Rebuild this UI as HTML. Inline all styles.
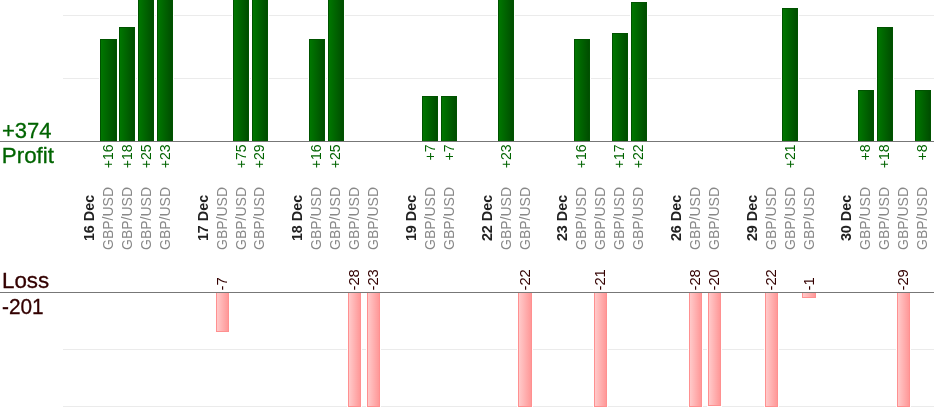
<!DOCTYPE html>
<html><head><meta charset="utf-8"><title>Pips chart</title>
<style>
html,body{margin:0;padding:0;background:#fff;}
body{width:934px;height:420px;overflow:hidden;}
svg{display:block;font-family:"Liberation Sans",sans-serif;}
svg text{font-size:14px;}
.d{font-weight:bold;fill:#222;}
.p{fill:#888;}
.gv{fill:#006400;}
.rv{fill:#330000;}
svg text.big{font-size:22px;}
</style></head><body>
<svg width="934" height="420" viewBox="0 0 934 420">
<defs>
<linearGradient id="g" x1="0" y1="0" x2="1" y2="0"><stop offset="0" stop-color="#007800"/><stop offset="1" stop-color="#004c00"/></linearGradient>
<linearGradient id="r" x1="0" y1="0" x2="1" y2="0"><stop offset="0" stop-color="#ffcccc"/><stop offset="1" stop-color="#ff9696"/></linearGradient>
</defs>
<rect width="934" height="420" fill="#fff"/>
<rect x="63" y="15" width="871" height="1" fill="#ebebeb"/>
<rect x="63" y="78" width="871" height="1" fill="#ebebeb"/>
<rect x="63" y="349" width="871" height="1" fill="#ebebeb"/>
<rect x="63" y="406" width="871" height="1" fill="#ebebeb"/>
<rect x="99" y="38" width="19" height="103" fill="#fff"/>
<rect x="100.5" y="39.5" width="16" height="102" fill="url(#g)" stroke="#005200" stroke-width="1"/>
<rect x="118" y="26" width="18" height="115" fill="#fff"/>
<rect x="119.5" y="27.5" width="15" height="114" fill="url(#g)" stroke="#005200" stroke-width="1"/>
<rect x="137" y="-6" width="18" height="147" fill="#fff"/>
<rect x="138.5" y="-4.5" width="15" height="146" fill="url(#g)" stroke="#005200" stroke-width="1"/>
<rect x="156" y="-6" width="18" height="147" fill="#fff"/>
<rect x="157.5" y="-4.5" width="15" height="146" fill="url(#g)" stroke="#005200" stroke-width="1"/>
<rect x="215" y="292" width="15" height="41" fill="#fff"/>
<rect x="216.5" y="292.5" width="12" height="39" fill="url(#r)" stroke="#ff9090" stroke-width="1"/>
<rect x="232" y="-6" width="18" height="147" fill="#fff"/>
<rect x="233.5" y="-4.5" width="15" height="146" fill="url(#g)" stroke="#005200" stroke-width="1"/>
<rect x="251" y="-6" width="18" height="147" fill="#fff"/>
<rect x="252.5" y="-4.5" width="15" height="146" fill="url(#g)" stroke="#005200" stroke-width="1"/>
<rect x="308" y="38" width="18" height="103" fill="#fff"/>
<rect x="309.5" y="39.5" width="15" height="102" fill="url(#g)" stroke="#005200" stroke-width="1"/>
<rect x="327" y="-6" width="18" height="147" fill="#fff"/>
<rect x="328.5" y="-4.5" width="15" height="146" fill="url(#g)" stroke="#005200" stroke-width="1"/>
<rect x="347" y="292" width="15" height="116" fill="#fff"/>
<rect x="348.5" y="292.5" width="12" height="114" fill="url(#r)" stroke="#ff9090" stroke-width="1"/>
<rect x="366" y="292" width="15" height="116" fill="#fff"/>
<rect x="367.5" y="292.5" width="12" height="114" fill="url(#r)" stroke="#ff9090" stroke-width="1"/>
<rect x="421" y="95" width="18" height="46" fill="#fff"/>
<rect x="422.5" y="96.5" width="15" height="45" fill="url(#g)" stroke="#005200" stroke-width="1"/>
<rect x="440" y="95" width="18" height="46" fill="#fff"/>
<rect x="441.5" y="96.5" width="15" height="45" fill="url(#g)" stroke="#005200" stroke-width="1"/>
<rect x="497" y="-6" width="18" height="147" fill="#fff"/>
<rect x="498.5" y="-4.5" width="15" height="146" fill="url(#g)" stroke="#005200" stroke-width="1"/>
<rect x="517" y="292" width="16" height="116" fill="#fff"/>
<rect x="518.5" y="292.5" width="13" height="114" fill="url(#r)" stroke="#ff9090" stroke-width="1"/>
<rect x="573" y="38" width="18" height="103" fill="#fff"/>
<rect x="574.5" y="39.5" width="15" height="102" fill="url(#g)" stroke="#005200" stroke-width="1"/>
<rect x="593" y="292" width="15" height="116" fill="#fff"/>
<rect x="594.5" y="292.5" width="12" height="114" fill="url(#r)" stroke="#ff9090" stroke-width="1"/>
<rect x="611" y="32" width="18" height="109" fill="#fff"/>
<rect x="612.5" y="33.5" width="15" height="108" fill="url(#g)" stroke="#005200" stroke-width="1"/>
<rect x="630" y="1" width="18" height="140" fill="#fff"/>
<rect x="631.5" y="2.5" width="15" height="139" fill="url(#g)" stroke="#005200" stroke-width="1"/>
<rect x="688" y="292" width="15" height="116" fill="#fff"/>
<rect x="689.5" y="292.5" width="12" height="114" fill="url(#r)" stroke="#ff9090" stroke-width="1"/>
<rect x="707" y="292" width="15" height="115" fill="#fff"/>
<rect x="708.5" y="292.5" width="12" height="113" fill="url(#r)" stroke="#ff9090" stroke-width="1"/>
<rect x="764" y="292" width="15" height="116" fill="#fff"/>
<rect x="765.5" y="292.5" width="12" height="114" fill="url(#r)" stroke="#ff9090" stroke-width="1"/>
<rect x="781" y="7" width="18" height="134" fill="#fff"/>
<rect x="782.5" y="8.5" width="15" height="133" fill="url(#g)" stroke="#005200" stroke-width="1"/>
<rect x="801" y="292" width="16" height="7" fill="#fff"/>
<rect x="802.5" y="292.5" width="13" height="5" fill="url(#r)" stroke="#ff9090" stroke-width="1"/>
<rect x="857" y="89" width="18" height="52" fill="#fff"/>
<rect x="858.5" y="90.5" width="15" height="51" fill="url(#g)" stroke="#005200" stroke-width="1"/>
<rect x="876" y="26" width="18" height="115" fill="#fff"/>
<rect x="877.5" y="27.5" width="15" height="114" fill="url(#g)" stroke="#005200" stroke-width="1"/>
<rect x="896" y="292" width="15" height="116" fill="#fff"/>
<rect x="897.5" y="292.5" width="12" height="114" fill="url(#r)" stroke="#ff9090" stroke-width="1"/>
<rect x="914" y="89" width="18" height="52" fill="#fff"/>
<rect x="915.5" y="90.5" width="15" height="51" fill="url(#g)" stroke="#005200" stroke-width="1"/>
<rect x="0" y="141" width="934" height="1" fill="#777"/>
<rect x="0" y="292" width="934" height="1" fill="#777"/>
<text class="d" transform="translate(94.06,218) rotate(-90) scale(1.025,1)" text-anchor="middle">16 Dec</text>
<text class="p" transform="translate(113.00,218.5) rotate(-90)" text-anchor="middle">GBP/USD</text>
<text class="gv" transform="translate(113.00,144.5) rotate(-90)" text-anchor="end">+16</text>
<text class="p" transform="translate(131.94,218.5) rotate(-90)" text-anchor="middle">GBP/USD</text>
<text class="gv" transform="translate(131.94,144.5) rotate(-90)" text-anchor="end">+18</text>
<text class="p" transform="translate(150.87,218.5) rotate(-90)" text-anchor="middle">GBP/USD</text>
<text class="gv" transform="translate(150.87,144.5) rotate(-90)" text-anchor="end">+25</text>
<text class="p" transform="translate(169.81,218.5) rotate(-90)" text-anchor="middle">GBP/USD</text>
<text class="gv" transform="translate(169.81,144.5) rotate(-90)" text-anchor="end">+23</text>
<text class="d" transform="translate(207.68,218) rotate(-90) scale(1.025,1)" text-anchor="middle">17 Dec</text>
<text class="p" transform="translate(226.61,218.5) rotate(-90)" text-anchor="middle">GBP/USD</text>
<text class="rv" transform="translate(226.61,290.5) rotate(-90) scale(1.05,1)" text-anchor="start">-7</text>
<text class="p" transform="translate(245.54,218.5) rotate(-90)" text-anchor="middle">GBP/USD</text>
<text class="gv" transform="translate(245.54,144.5) rotate(-90)" text-anchor="end">+75</text>
<text class="p" transform="translate(264.48,218.5) rotate(-90)" text-anchor="middle">GBP/USD</text>
<text class="gv" transform="translate(264.48,144.5) rotate(-90)" text-anchor="end">+29</text>
<text class="d" transform="translate(302.35,218) rotate(-90) scale(1.025,1)" text-anchor="middle">18 Dec</text>
<text class="p" transform="translate(321.28,218.5) rotate(-90)" text-anchor="middle">GBP/USD</text>
<text class="gv" transform="translate(321.28,144.5) rotate(-90)" text-anchor="end">+16</text>
<text class="p" transform="translate(340.22,218.5) rotate(-90)" text-anchor="middle">GBP/USD</text>
<text class="gv" transform="translate(340.22,144.5) rotate(-90)" text-anchor="end">+25</text>
<text class="p" transform="translate(359.15,218.5) rotate(-90)" text-anchor="middle">GBP/USD</text>
<text class="rv" transform="translate(359.15,290.5) rotate(-90) scale(1.05,1)" text-anchor="start">-28</text>
<text class="p" transform="translate(378.09,218.5) rotate(-90)" text-anchor="middle">GBP/USD</text>
<text class="rv" transform="translate(378.09,290.5) rotate(-90) scale(1.05,1)" text-anchor="start">-23</text>
<text class="d" transform="translate(415.96,218) rotate(-90) scale(1.025,1)" text-anchor="middle">19 Dec</text>
<text class="p" transform="translate(434.89,218.5) rotate(-90)" text-anchor="middle">GBP/USD</text>
<text class="gv" transform="translate(434.89,144.5) rotate(-90)" text-anchor="end">+7</text>
<text class="p" transform="translate(453.83,218.5) rotate(-90)" text-anchor="middle">GBP/USD</text>
<text class="gv" transform="translate(453.83,144.5) rotate(-90)" text-anchor="end">+7</text>
<text class="d" transform="translate(491.70,218) rotate(-90) scale(1.025,1)" text-anchor="middle">22 Dec</text>
<text class="p" transform="translate(510.63,218.5) rotate(-90)" text-anchor="middle">GBP/USD</text>
<text class="gv" transform="translate(510.63,144.5) rotate(-90)" text-anchor="end">+23</text>
<text class="p" transform="translate(529.57,218.5) rotate(-90)" text-anchor="middle">GBP/USD</text>
<text class="rv" transform="translate(529.57,290.5) rotate(-90) scale(1.05,1)" text-anchor="start">-22</text>
<text class="d" transform="translate(567.44,218) rotate(-90) scale(1.025,1)" text-anchor="middle">23 Dec</text>
<text class="p" transform="translate(586.38,218.5) rotate(-90)" text-anchor="middle">GBP/USD</text>
<text class="gv" transform="translate(586.38,144.5) rotate(-90)" text-anchor="end">+16</text>
<text class="p" transform="translate(605.31,218.5) rotate(-90)" text-anchor="middle">GBP/USD</text>
<text class="rv" transform="translate(605.31,290.5) rotate(-90) scale(1.05,1)" text-anchor="start">-21</text>
<text class="p" transform="translate(624.24,218.5) rotate(-90)" text-anchor="middle">GBP/USD</text>
<text class="gv" transform="translate(624.24,144.5) rotate(-90)" text-anchor="end">+17</text>
<text class="p" transform="translate(643.18,218.5) rotate(-90)" text-anchor="middle">GBP/USD</text>
<text class="gv" transform="translate(643.18,144.5) rotate(-90)" text-anchor="end">+22</text>
<text class="d" transform="translate(681.05,218) rotate(-90) scale(1.025,1)" text-anchor="middle">26 Dec</text>
<text class="p" transform="translate(699.99,218.5) rotate(-90)" text-anchor="middle">GBP/USD</text>
<text class="rv" transform="translate(699.99,290.5) rotate(-90) scale(1.05,1)" text-anchor="start">-28</text>
<text class="p" transform="translate(718.92,218.5) rotate(-90)" text-anchor="middle">GBP/USD</text>
<text class="rv" transform="translate(718.92,290.5) rotate(-90) scale(1.05,1)" text-anchor="start">-20</text>
<text class="d" transform="translate(756.79,218) rotate(-90) scale(1.025,1)" text-anchor="middle">29 Dec</text>
<text class="p" transform="translate(775.72,218.5) rotate(-90)" text-anchor="middle">GBP/USD</text>
<text class="rv" transform="translate(775.72,290.5) rotate(-90) scale(1.05,1)" text-anchor="start">-22</text>
<text class="p" transform="translate(794.66,218.5) rotate(-90)" text-anchor="middle">GBP/USD</text>
<text class="gv" transform="translate(794.66,144.5) rotate(-90)" text-anchor="end">+21</text>
<text class="p" transform="translate(813.59,218.5) rotate(-90)" text-anchor="middle">GBP/USD</text>
<text class="rv" transform="translate(813.59,290.5) rotate(-90) scale(1.05,1)" text-anchor="start">-1</text>
<text class="d" transform="translate(851.46,218) rotate(-90) scale(1.025,1)" text-anchor="middle">30 Dec</text>
<text class="p" transform="translate(870.40,218.5) rotate(-90)" text-anchor="middle">GBP/USD</text>
<text class="gv" transform="translate(870.40,144.5) rotate(-90)" text-anchor="end">+8</text>
<text class="p" transform="translate(889.33,218.5) rotate(-90)" text-anchor="middle">GBP/USD</text>
<text class="gv" transform="translate(889.33,144.5) rotate(-90)" text-anchor="end">+18</text>
<text class="p" transform="translate(908.27,218.5) rotate(-90)" text-anchor="middle">GBP/USD</text>
<text class="rv" transform="translate(908.27,290.5) rotate(-90) scale(1.05,1)" text-anchor="start">-29</text>
<text class="p" transform="translate(927.20,218.5) rotate(-90)" text-anchor="middle">GBP/USD</text>
<text class="gv" transform="translate(927.20,144.5) rotate(-90)" text-anchor="end">+8</text>
<text class="big" transform="translate(2,137.6) scale(1.0,1.03)" fill="#006400" stroke="#006400" stroke-width="0.3">+374</text>
<text class="big" transform="translate(1.8,162.6) scale(1.017,1.0)" fill="#006400" stroke="#006400" stroke-width="0.3">Profit</text>
<text class="big" transform="translate(2.0,288) scale(1.017,1.03)" fill="#330000" stroke="#330000" stroke-width="0.3">Loss</text>
<text class="big" transform="translate(2.0,313.5) scale(0.947,1.02)" fill="#330000" stroke="#330000" stroke-width="0.3">-201</text>
</svg>
</body></html>
